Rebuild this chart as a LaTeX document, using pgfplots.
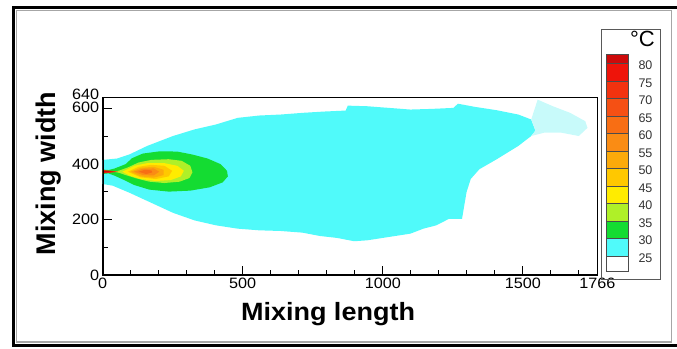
\documentclass[border=0pt]{standalone}
\usepackage{pgfplots}
\pgfplotsset{compat=1.18}
\usepackage{fontspec}
\setmainfont{Liberation Sans}
\usepackage{graphicx}
\newcommand\sx[1]{\scalebox{1.08}[1]{#1}}
\definecolor{ccyan}{RGB}{80,250,250}
\definecolor{cspeck}{RGB}{200,250,250}
\definecolor{cgreen}{RGB}{20,220,50}
\definecolor{cyg}{RGB}{175,240,40}
\definecolor{cyel}{RGB}{255,236,0}
\definecolor{cyo}{RGB}{255,200,0}
\definecolor{co1}{RGB}{252,170,10}
\definecolor{co2}{RGB}{250,140,20}
\definecolor{co3}{RGB}{248,110,20}
\definecolor{co4}{RGB}{245,80,20}
\definecolor{co5}{RGB}{242,50,15}
\definecolor{cred}{RGB}{238,20,10}
\definecolor{cdred}{RGB}{205,10,10}
\begin{document}
\begin{tikzpicture}
\path[use as bounding box] (0,-349bp) rectangle (677bp,0);
% outer double frame
\draw[black,line width=2.2bp] (690bp,-7.5bp) -- (13.5bp,-7.5bp) -- (13.5bp,-345.5bp) -- (690bp,-345.5bp);
\draw[black!35,line width=1.5bp] (16.5bp,-10.5bp) rectangle (671.5bp,-342bp);
\begin{axis}[
  at={(102.7bp,-275bp)}, anchor=south west,
  scale only axis, width=494.6bp, height=177.7bp,
  xmin=0, xmax=1766, ymin=0, ymax=640,
  axis line style={line width=0.8bp},
  tick pos=left, tick align=inside,
  xtick={0,500,1000,1500,1766},
  xticklabels={\sx{0},\sx{500},\sx{1000},\sx{1500},\sx{1766}},
  minor xtick={100,200,300,400,600,700,800,900,1100,1200,1300,1400,1600,1700},
  ytick={0,200,400,600,640},
  yticklabels={\sx{0},\sx{200},\sx{400},\raisebox{1.5bp}{\sx{600}},\raisebox{6.5bp}{\sx{640}}},
  minor ytick={100,300,500},
  major tick length=9bp, minor tick length=5bp,
  every tick/.style={black,line width=1bp},
  tick label style={font=\fontsize{15bp}{15.5bp}\selectfont},
  clip=true,
]
% 25-30 region (cyan)
\addplot[draw=none,fill=ccyan] coordinates {
(0,327.7) (0,414.7) (50.9,419.5) (97,435) (158.7,464.8) (251,500.6) (328,524.4)
(405,542.3) (482,566) (559,574.4) (636,578) (713,584) (790,588.7) (867.6,592.3)
(875,610) (944.6,607.8) (1021.7,601.9) (1098.7,595.9) (1175.8,598.3) (1252.8,601.9)
(1268,617) (1330,605.4) (1407,593.5) (1484,578) (1530,560) (1545,520) (1530,500.6)
(1484,464.8) (1407,417) (1345,381) (1314,345.6) (1299,298) (1291,250) (1283,202.6)
(1237,202.6) (1191,178.8) (1145,166.9) (1099,149) (1022,137) (945,125) (898,121.6)
(837,133.5) (775,140.6) (713,152.6) (636,158.5) (559,160.9) (482,166.9) (405,178.8)
(328,196.6) (251,224) (174,259.8) (97,295.6) (35.4,321.8)
} -- cycle;
% sparse cyan speckle at far end
\addplot[draw=none,fill=cspeck] coordinates {
(1530,560) (1553,631.6) (1607,608) (1669,584) (1723,554) (1731,530) (1700,500.6)
(1638,512.5) (1576,512.5) (1530,500.6) (1545,520)
} -- cycle;
% 30-35 (green)
\addplot[draw=none,fill=cgreen] coordinates {
(0,364) (0,380) (20,378) (43,383.8) (81.7,399.3) (104.8,420.7) (143.3,437.4) (205,445.7)
(266.6,444.5) (320.5,433.8) (374.5,419.5) (420.7,399.3) (443.8,375.4) (446.9,355.2)
(428.4,333.7) (382,315.8) (312.8,303.9) (235.8,300.3) (166.4,307.5) (112.5,324.2)
(81.7,339.7) (43,357.5) (20,366)
} -- cycle;
% 35-40 (yellow-green)
\addplot[draw=none,fill=cyg] coordinates {
(40,372) (58.6,376) (89.4,387.3) (128,405.2) (174,414.7) (235.8,417.1) (282,411.2)
(312.8,393.3) (320.5,369.5) (309.7,349.2) (274.3,336.1) (220.4,331.3) (166.4,336.1)
(120.2,348) (81.7,360) (58.6,368)
} -- cycle;
% 40-45 (yellow)
\addplot[draw=none,fill=cyel] coordinates {
(70,372) (112.5,393.3) (158.7,402.8) (220.4,402.8) (266.6,393.3) (289.7,375.4)
(279,355.2) (243.5,342) (189.5,338.5) (135.6,345.6) (97,357.5)
} -- cycle;
% 45-50
\addplot[draw=none,fill=cyo] coordinates {
(90,372) (128,389.7) (174,396.9) (220.4,393.3) (248,375.4) (235.8,355.2)
(189.5,345.6) (135.6,351.6)
} -- cycle;
% 50-55
\addplot[draw=none,fill=co1] coordinates {
(100,372) (135.6,386) (181.9,389.7) (217.3,379) (217.3,359.9) (181.9,350.4) (135.6,355.2)
} -- cycle;
% 55-60
\addplot[draw=none,fill=co2] coordinates {
(112,372) (143.3,382.6) (181.9,383.8) (201.9,372) (181.9,358.7) (143.3,359.9)
} -- cycle;
% 60-65
\addplot[draw=none,fill=co3] coordinates {
(128,372) (151,379) (174,376.6) (177,369.5) (155,363.5)
} -- cycle;
% inlet jet
\addplot[draw=none,fill=co5] coordinates {
(0,366) (0,378) (25,376) (55,372) (25,368)
} -- cycle;
\addplot[draw=none,fill=cdred] coordinates {
(0,368.5) (0,375.5) (20,374) (38,372) (20,370)
} -- cycle;
\draw[line width=2bp] (rel axis cs:0,1) -- (rel axis cs:0,0) -- (rel axis cs:1,0);
\end{axis}
% colour bar
\draw[black!65,line width=0.9bp] (601.7bp,-29bp) rectangle (660bp,-279bp);
\node[anchor=north east,inner sep=0pt,font=\fontsize{22bp}{22bp}\selectfont] at (655bp,-31bp) {°C};
\begin{axis}[
  at={(606.7bp,-271.7bp)}, anchor=south west,
  scale only axis, width=21.3bp, height=217.7bp,
  xmin=0, xmax=1, ymin=0, ymax=217.7,
  hide x axis, axis y line*=right, y axis line style={draw=none},
  ytick={15.7,33.2,50.7,68.3,85.8,103.3,120.8,138.3,155.9,173.4,190.9,208.4},
  yticklabels={25,30,35,40,45,50,55,60,65,70,75,80},
  major tick length=0pt,
  yticklabel style={font=\fontsize{12.5bp}{13bp}\selectfont,text=black!80,anchor=west,xshift=7bp,yshift=-2bp},
  clip=false,
]
\addplot[fill=white,draw=black!70,line width=0.6bp] coordinates {(0,0) (1,0) (1,15.7) (0,15.7)} -- cycle;
\addplot[fill=ccyan,draw=black!70,line width=0.6bp] coordinates {(0,15.7) (1,15.7) (1,33.2) (0,33.2)} -- cycle;
\addplot[fill=cgreen,draw=black!70,line width=0.6bp] coordinates {(0,33.2) (1,33.2) (1,50.7) (0,50.7)} -- cycle;
\addplot[fill=cyg,draw=black!70,line width=0.6bp] coordinates {(0,50.7) (1,50.7) (1,68.3) (0,68.3)} -- cycle;
\addplot[fill=cyel,draw=black!70,line width=0.6bp] coordinates {(0,68.3) (1,68.3) (1,85.8) (0,85.8)} -- cycle;
\addplot[fill=cyo,draw=black!70,line width=0.6bp] coordinates {(0,85.8) (1,85.8) (1,103.3) (0,103.3)} -- cycle;
\addplot[fill=co1,draw=black!70,line width=0.6bp] coordinates {(0,103.3) (1,103.3) (1,120.8) (0,120.8)} -- cycle;
\addplot[fill=co2,draw=black!70,line width=0.6bp] coordinates {(0,120.8) (1,120.8) (1,138.3) (0,138.3)} -- cycle;
\addplot[fill=co3,draw=black!70,line width=0.6bp] coordinates {(0,138.3) (1,138.3) (1,155.9) (0,155.9)} -- cycle;
\addplot[fill=co4,draw=black!70,line width=0.6bp] coordinates {(0,155.9) (1,155.9) (1,173.4) (0,173.4)} -- cycle;
\addplot[fill=co5,draw=black!70,line width=0.6bp] coordinates {(0,173.4) (1,173.4) (1,190.9) (0,190.9)} -- cycle;
\addplot[fill=cred,draw=black!70,line width=0.6bp] coordinates {(0,190.9) (1,190.9) (1,208.4) (0,208.4)} -- cycle;
\addplot[fill=cdred,draw=black!70,line width=0.6bp] coordinates {(0,208.4) (1,208.4) (1,217.7) (0,217.7)} -- cycle;
\end{axis}
% axis titles
\node[anchor=base,inner sep=0pt,font=\bfseries\fontsize{25bp}{26bp}\selectfont] at (328bp,-320.7bp) {\scalebox{1.08}[1]{Mixing length}};
\node[rotate=90,inner sep=0pt,font=\bfseries\fontsize{27bp}{28bp}\selectfont] at (49bp,-173.5bp) {Mixing width};
\end{tikzpicture}
\end{document}
